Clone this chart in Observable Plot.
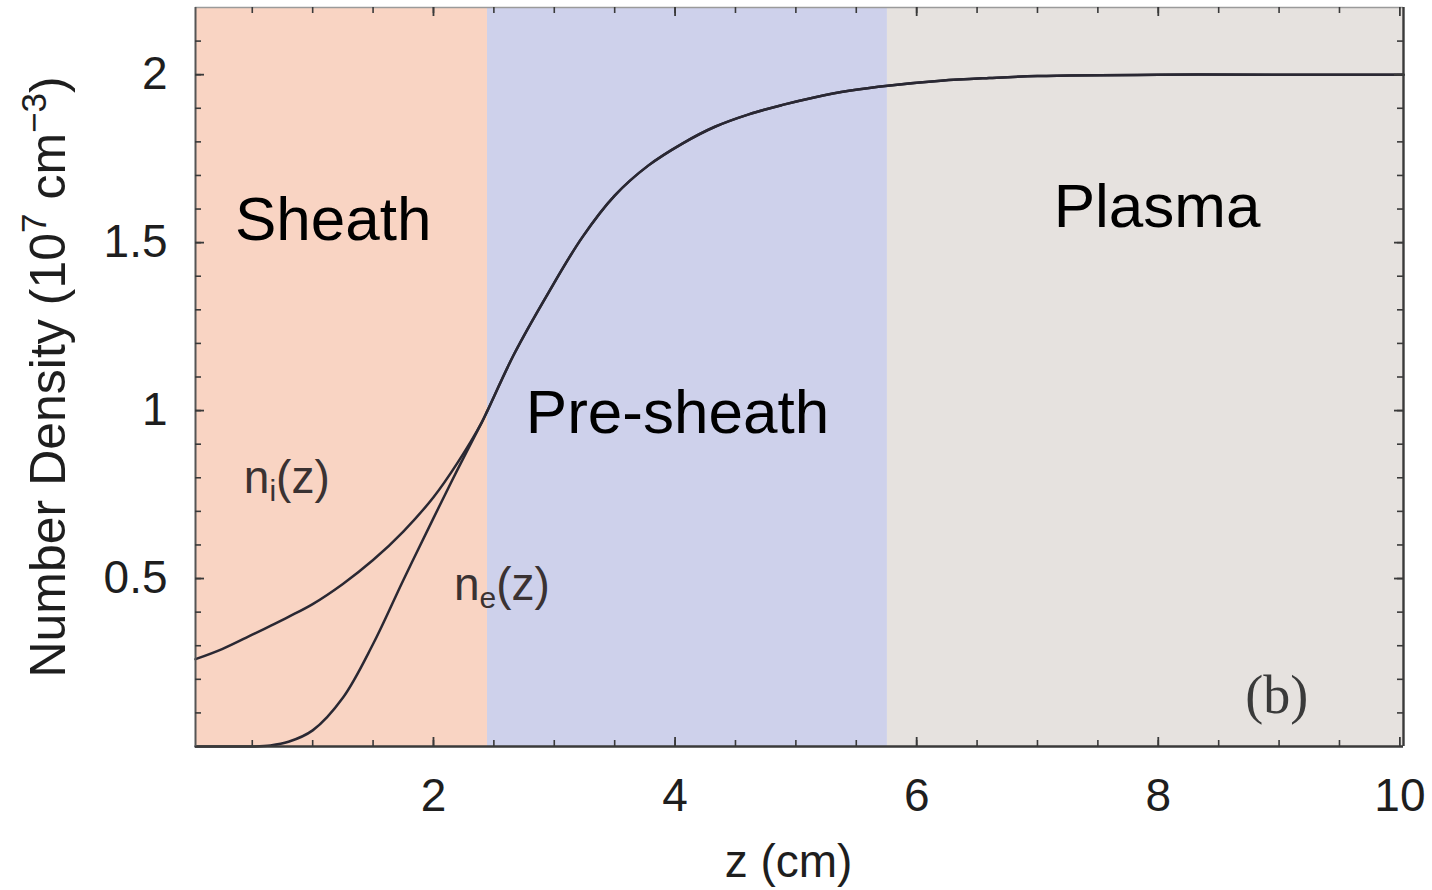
<!DOCTYPE html>
<html><head><meta charset="utf-8">
<script src="https://cdn.jsdelivr.net/npm/d3@7"></script>
<script src="https://cdn.jsdelivr.net/npm/@observablehq/plot@0.6"></script>
<style>body{margin:0;background:#fff;}</style>
</head><body><div id="chart"></div>
<script>
// ---- data ----
const z = [0.03, 0.25, 0.5, 0.65, 0.8, 1.0, 1.25, 1.5, 1.75, 2.0, 2.2, 2.4, 2.447, 2.67, 2.95, 3.23, 3.5, 3.78, 4.06, 4.33, 4.61, 4.89, 5.16, 5.44, 5.78, 6.2, 6.6, 7.0, 8.0, 9.0, 10.03];
const nIon = [0.26, 0.29, 0.333, 0.359, 0.386, 0.424, 0.484, 0.555, 0.64, 0.742, 0.845, 0.965, 1.0, 1.17, 1.35, 1.515, 1.64, 1.73, 1.795, 1.845, 1.882, 1.91, 1.933, 1.952, 1.968, 1.982, 1.99, 1.996, 2.0, 2.0, 2.0];
const nElectron = [0, 0, 0, 0.003, 0.014, 0.048, 0.145, 0.305, 0.495, 0.68, 0.825, 0.965, 1.0, 1.17, 1.35, 1.515, 1.64, 1.73, 1.795, 1.845, 1.882, 1.91, 1.933, 1.952, 1.968, 1.982, 1.99, 1.996, 2.0, 2.0, 2.0];

const regionNames = ["Sheath", "Pre-sheath", "Plasma"];
const regionStart = [0.03, 2.447, 5.758];
const regionEnd = [2.447, 5.758, 10.03];
const regionColors = ["#f9d4c3", "#ced1eb", "#e6e2df"];
const regionLabelZ = [1.17, 4.02, 7.99];
const regionLabelN = [1.566, 0.991, 1.605];

const curveLabels = ["ni(z)", "ne(z)"];
const curveLabelZ = [0.43, 2.17];
const curveLabelN = [0.80, 0.479];

const panelLabel = ["(b)"];
const panelLabelZ = [8.98];
const panelLabelN = [0.152];

const xTicks = [2, 4, 6, 8, 10];
const yTicks = [0.5, 1, 1.5, 2];
const xMinor = [0.5, 1, 1.5, 2, 2.5, 3, 3.5, 4, 4.5, 5, 5.5, 6, 6.5, 7, 7.5, 8, 8.5, 9, 9.5];
const yMinor = [0.1, 0.2, 0.3, 0.4, 0.5, 0.6, 0.7, 0.8, 0.9, 1.0, 1.1, 1.2, 1.3, 1.4, 1.5, 1.6, 1.7, 1.8, 1.9, 2.0, 2.1];

// ---- layout ----
const W = 1432, H = 890;
const mTop = 7, mBottom = 144, mLeft = 195, mRight = 29;
const fh = H - mTop - mBottom, fw = W - mLeft - mRight;

const regions = regionNames.map((name, i) => ({name, x1: regionStart[i], x2: regionEnd[i], color: regionColors[i], lz: regionLabelZ[i], ln: regionLabelN[i]}));
const ions = z.map((d, i) => ({z: d, n: nIon[i]}));
const electrons = z.map((d, i) => ({z: d, n: nElectron[i]}));
const curveLab = curveLabels.map((t, i) => ({t, z: curveLabelZ[i], n: curveLabelN[i]}));
const panelLab = panelLabel.map((t, i) => ({t, z: panelLabelZ[i], n: panelLabelN[i]}));

const lineColor = "#2a2833";
const axisColor = "#3a3a3a";
const minorLen = 6, majorLen = 9;

const plot = Plot.plot({
  width: W, height: H,
  marginTop: mTop, marginBottom: mBottom, marginLeft: mLeft, marginRight: mRight,
  style: {fontFamily: "'Liberation Sans', Arial, sans-serif", fontSize: "46px", color: "#1e1e1e", background: "white"},
  x: {domain: [0.03, 10.03]},
  y: {domain: [0, 2.2]},
  marks: [
    Plot.rect(regions, {x1: "x1", x2: "x2", fill: "color"}),
    Plot.line(ions, {x: "z", y: "n", stroke: lineColor, strokeWidth: 2.5, curve: "catmull-rom"}),
    Plot.line(electrons, {x: "z", y: "n", stroke: lineColor, strokeWidth: 2.5, curve: "catmull-rom"}),
    Plot.text(regions, {x: "lz", y: "ln", text: "name", fontSize: 62, fill: "#000"}),
    Plot.text(curveLab, {x: "z", y: "n", text: "t", fontSize: 46, fill: "#3a3232", textAnchor: "start"}),
    Plot.text(panelLab, {x: "z", y: "n", text: "t", fontSize: 54, fill: "#3a3a3a", fontFamily: "'Liberation Serif', 'Times New Roman', serif"}),
    // frame
    Plot.ruleY([0], {stroke: axisColor, strokeWidth: 2.6}),
    Plot.ruleY([2.2], {stroke: "#9a9a9a", strokeWidth: 1.5}),
    Plot.ruleX([0.03], {stroke: "#555", strokeWidth: 2}),
    Plot.ruleX([10.03], {stroke: axisColor, strokeWidth: 2.4}),
    // inward ticks (bottom / top)
    Plot.tickX(xMinor, {x: d => d, stroke: axisColor, strokeWidth: 1.6, insetTop: fh - minorLen}),
    Plot.tickX(xTicks, {x: d => d, stroke: axisColor, strokeWidth: 1.8, insetTop: fh - majorLen}),
    Plot.tickX(xMinor, {x: d => d, stroke: axisColor, strokeWidth: 1.6, insetBottom: fh - minorLen}),
    Plot.tickX(xTicks, {x: d => d, stroke: axisColor, strokeWidth: 1.8, insetBottom: fh - majorLen}),
    // inward ticks (left / right)
    Plot.tickY(yMinor, {y: d => d, stroke: axisColor, strokeWidth: 1.6, insetRight: fw - minorLen}),
    Plot.tickY(yTicks, {y: d => d, stroke: axisColor, strokeWidth: 1.8, insetRight: fw - majorLen}),
    Plot.tickY(yMinor, {y: d => d, stroke: axisColor, strokeWidth: 1.6, insetLeft: fw - minorLen}),
    Plot.tickY(yTicks, {y: d => d, stroke: axisColor, strokeWidth: 1.8, insetLeft: fw - majorLen}),
    // axes labels
    Plot.axisX(xTicks, {tickSize: 0, tickPadding: 32, label: "z (cm)", labelAnchor: "center", labelOffset: 130, labelArrow: "none", tickFormat: d => String(d)}),
    Plot.axisY(yTicks, {tickSize: 0, tickPadding: 28, label: "Number Density (10^7 cm^-3)", labelAnchor: "center", labelOffset: 166, labelArrow: "none", tickFormat: d => String(d)})
  ]
});
document.getElementById("chart").appendChild(plot);

// rich text: subscripts / superscripts, strip arrows
const svg = d3.select(plot);
svg.selectAll("text").each(function() {
  const t = this.textContent;
  const sel = d3.select(this);
  if (t === "ni(z)" || t === "ne(z)") {
    const sub = t[1];
    sel.text(null);
    sel.append("tspan").text("n");
    sel.append("tspan").attr("dy", "8").attr("font-size", "30").text(sub);
    sel.append("tspan").attr("dy", "-8").text("(z)");
  } else if (t.includes("Number Density")) {
    sel.text(null).attr("font-size", "50");
    sel.append("tspan").text("Number Density (10");
    sel.append("tspan").attr("dy", "-19").attr("font-size", "35").text("7");
    sel.append("tspan").attr("dy", "19").text(" cm");
    sel.append("tspan").attr("dy", "-19").attr("font-size", "35").text("\u22123");
    sel.append("tspan").attr("dy", "19").text(")");
  } else if (t.includes("z (cm)")) {
    sel.text("z (cm)").attr("dx", -11);
  }
});
</script>
</body></html>
